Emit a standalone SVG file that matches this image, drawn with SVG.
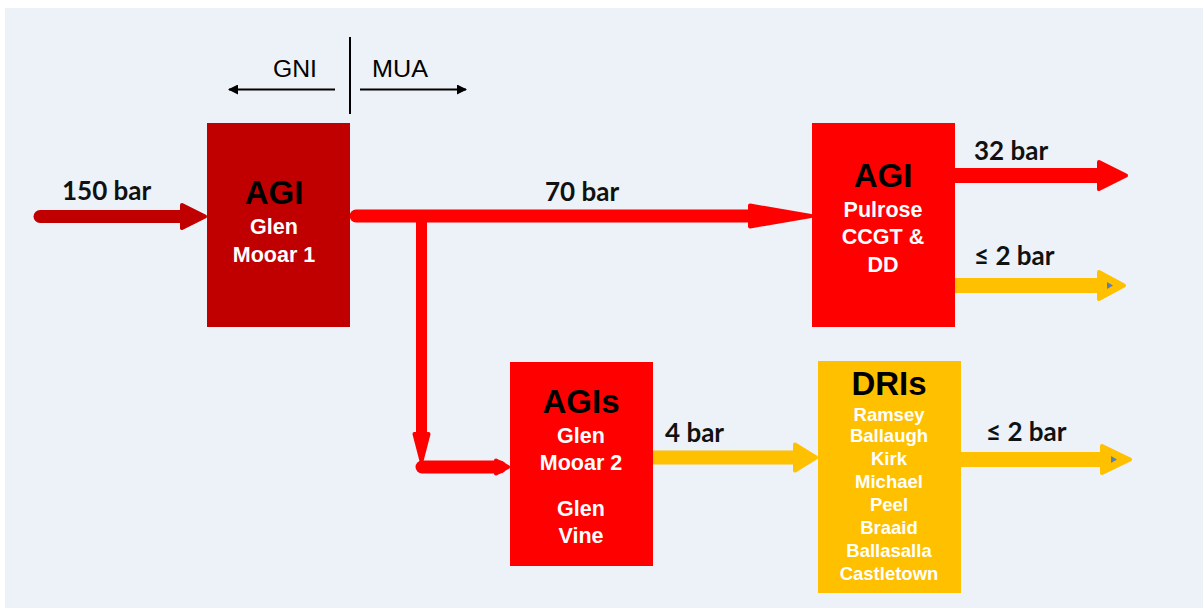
<svg xmlns="http://www.w3.org/2000/svg" width="1203" height="608" viewBox="0 0 1203 608">
<defs>
<style>
.lbl{font-family:Lato,"Liberation Sans",sans-serif;font-weight:700;font-size:26px;fill:#111}
.ttl{font-family:"Liberation Sans",Arial,sans-serif;font-weight:700;font-size:33px;fill:#000;text-anchor:middle}
.sub{font-family:"Liberation Sans",Arial,sans-serif;font-weight:700;font-size:21.5px;fill:#fff;text-anchor:middle}
.dri{font-family:"Liberation Sans",Arial,sans-serif;font-weight:700;font-size:18.5px;fill:#fff;text-anchor:middle}
.thin{font-family:"Liberation Sans",Arial,sans-serif;font-size:23px;fill:#000}
.dk{stroke:#C00000;fill:#C00000}
.rd{stroke:#FF0000;fill:#FF0000}
.yl{stroke:#FFC000;fill:#FFC000}
.shaft{stroke-linecap:round;fill:none}
.head{stroke-width:4;stroke-linejoin:round}
</style>
<marker id="ah" viewBox="0 0 10 10" refX="9" refY="5" markerWidth="12" markerHeight="10" markerUnits="userSpaceOnUse" orient="auto">
<path d="M0,0 L10,5 L0,10 Z" fill="#000"/>
</marker>
</defs>
<rect x="0" y="0" width="1203" height="608" fill="#FFFFFF"/>
<rect x="5" y="8" width="1198" height="600" fill="#EDF1F8"/>

<g id="boundary">
<line x1="350" y1="37" x2="350" y2="114" stroke="#000" stroke-width="2"/>
<line x1="335" y1="89.5" x2="229" y2="89.5" stroke="#000" stroke-width="2" marker-end="url(#ah)"/>
<line x1="360" y1="89.5" x2="466" y2="89.5" stroke="#000" stroke-width="2" marker-end="url(#ah)"/>
<text class="thin" x="273" y="77" textLength="44" lengthAdjust="spacingAndGlyphs">GNI</text>
<text class="thin" x="372" y="77" textLength="56" lengthAdjust="spacingAndGlyphs">MUA</text>
</g>

<g id="connectors">
<line class="shaft dk" x1="40" y1="216.5" x2="185" y2="216.5" stroke-width="13"/>
<polygon class="head dk" points="182,205 205,216.5 182,228"/>

<line class="shaft rd" x1="356" y1="216" x2="752" y2="216" stroke-width="13"/>
<polygon class="head rd" points="750,205.5 811,216 750,226.5"/>

<line class="shaft rd" x1="421.5" y1="220" x2="421.5" y2="440" stroke-width="11" style="stroke-linecap:butt"/>
<polygon class="head rd" points="414.5,434 428.5,434 421.5,461"/>
<line class="shaft rd" x1="422" y1="467" x2="500" y2="467" stroke-width="13"/>
<polygon class="head rd" points="496,460.5 508,467 496,473.5"/>

<line class="shaft yl" x1="652" y1="457.5" x2="797" y2="457.5" stroke-width="14" style="stroke-linecap:butt"/>
<polygon class="head yl" points="795,444.5 816,457.5 795,470.5"/>

<line class="shaft rd" x1="955" y1="175.5" x2="1100" y2="175.5" stroke-width="15" style="stroke-linecap:butt"/>
<polygon class="head rd" points="1099,162 1126,175.5 1099,189"/>

<line class="shaft yl" x1="955" y1="285.5" x2="1100" y2="285.5" stroke-width="15" style="stroke-linecap:butt"/>
<polygon class="head yl" points="1099,272 1124,285.5 1099,299"/>
<polygon points="1107,282 1113,285.5 1107,289" fill="#5A7FB0"/>

<line class="shaft yl" x1="960" y1="459.5" x2="1103" y2="459.5" stroke-width="15" style="stroke-linecap:butt"/>
<polygon class="head yl" points="1102,446 1130,459.5 1102,473"/>
<polygon points="1111,456 1117,459.5 1111,463" fill="#5A7FB0"/>

<text class="lbl" x="62" y="200">150 bar</text>
<text class="lbl" x="545" y="201">70 bar</text>
<text class="lbl" x="974" y="160">32 bar</text>
<text class="lbl" x="974" y="265">≤ 2 bar</text>
<text class="lbl" x="665" y="442">4 bar</text>
<text class="lbl" x="986" y="441">≤ 2 bar</text>
</g>

<g id="agi-glen-mooar-1">
<rect x="207" y="123" width="143" height="204" fill="#C00000"/>
<text class="ttl" x="274" y="204">AGI</text>
<text class="sub" x="274" y="234">Glen</text>
<text class="sub" x="274" y="261.5">Mooar 1</text>
</g>

<g id="agi-pulrose">
<rect x="812" y="123" width="143" height="204" fill="#FF0000"/>
<text class="ttl" x="883" y="187">AGI</text>
<text class="sub" x="883" y="217">Pulrose</text>
<text class="sub" x="883" y="244">CCGT &amp;</text>
<text class="sub" x="883" y="272">DD</text>
</g>

<g id="agis-glen-mooar-2">
<rect x="510" y="362" width="143" height="204" fill="#FF0000"/>
<text class="ttl" x="581" y="413">AGIs</text>
<text class="sub" x="581" y="443">Glen</text>
<text class="sub" x="581" y="470">Mooar 2</text>
<text class="sub" x="581" y="516">Glen</text>
<text class="sub" x="581" y="543">Vine</text>
</g>

<g id="dris">
<rect x="818" y="361" width="143" height="232" fill="#FFC000"/>
<text class="ttl" x="889" y="395">DRIs</text>
<text class="dri" x="889" y="420.5">Ramsey</text>
<text class="dri" x="889" y="442">Ballaugh</text>
<text class="dri" x="889" y="465">Kirk</text>
<text class="dri" x="889" y="488">Michael</text>
<text class="dri" x="889" y="511">Peel</text>
<text class="dri" x="889" y="534">Braaid</text>
<text class="dri" x="889" y="557">Ballasalla</text>
<text class="dri" x="889" y="580">Castletown</text>
</g>
</svg>
